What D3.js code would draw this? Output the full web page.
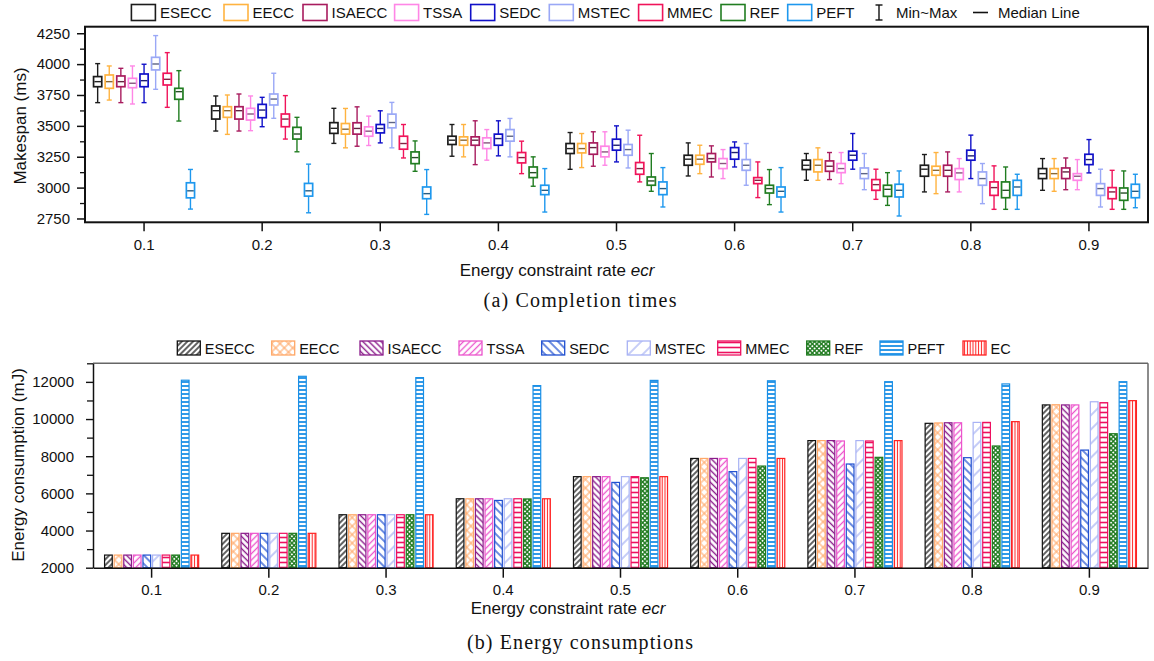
<!DOCTYPE html>
<html><head><meta charset="utf-8">
<script src="https://cdn.jsdelivr.net/npm/d3@7"></script>
<style>body{margin:0;background:#fff;} svg{display:block;font-family:"Liberation Sans",Arial,sans-serif;}</style>
</head><body><svg id="c" width="1154" height="661"></svg>
<script>
// ---------- DATA ----------
const categories = ["0.1","0.2","0.3","0.4","0.5","0.6","0.7","0.8","0.9"];
const seriesNames = ["ESECC","EECC","ISAECC","TSSA","SEDC","MSTEC","MMEC","REF","PEFT"];
const energySeriesNames = ["ESECC","EECC","ISAECC","TSSA","SEDC","MSTEC","MMEC","REF","PEFT","EC"];

// Makespan box stats per ecr: [min, q1, median, q3, max]
const ESECC_box = [[3688,3817,3858,3899,4004],[3458,3555,3623,3661,3742],[3358,3439,3480,3526,3642],[3254,3349,3384,3416,3511],[3148,3276,3316,3357,3446],[3094,3181,3230,3262,3362],[3059,3146,3181,3222,3276],[2965,3092,3149,3181,3268],[2978,3073,3113,3154,3235]];
const EECC_box = [[3709,3804,3858,3912,3985],[3431,3569,3623,3655,3750],[3322,3433,3473,3519,3641],[3249,3343,3384,3411,3511],[3162,3281,3316,3357,3438],[3113,3189,3230,3262,3343],[3059,3127,3181,3227,3322],[2951,3100,3140,3173,3284],[2970,3073,3113,3154,3235]];
const ISAECC_box = [[3688,3817,3858,3904,3966],[3458,3555,3623,3655,3758],[3335,3433,3479,3525,3654],[3186,3343,3384,3411,3541],[3173,3270,3324,3362,3452],[3086,3208,3235,3276,3338],[3065,3132,3173,3216,3284],[2965,3092,3140,3181,3289],[2983,3073,3127,3159,3240]];
const TSSA_box = [[3677,3809,3845,3885,3985],[3461,3547,3596,3642,3742],[3341,3416,3457,3492,3579],[3222,3316,3362,3403,3470],[3181,3249,3289,3335,3452],[3073,3154,3195,3235,3308],[3032,3121,3154,3195,3284],[2965,3065,3119,3154,3235],[2983,3059,3092,3113,3227]];
const SEDC_box = [[3688,3817,3866,3920,3999],[3493,3566,3628,3674,3731],[3362,3443,3479,3511,3622],[3257,3343,3397,3433,3541],[3208,3303,3343,3392,3500],[3167,3230,3284,3324,3370],[3149,3222,3262,3295,3438],[3073,3222,3257,3303,3425],[3119,3186,3227,3270,3389]];
const MSTEC_box = [[3796,3953,4001,4055,4231],[3561,3669,3717,3758,3926],[3322,3484,3527,3595,3690],[3249,3376,3416,3470,3560],[3159,3262,3308,3349,3465],[3019,3140,3181,3227,3357],[2983,3073,3113,3159,3276],[2870,3019,3073,3127,3195],[2843,2937,2992,3032,3149]];
const MMEC_box = [[3650,3831,3877,3926,4093],[3393,3493,3555,3596,3745],[3240,3311,3357,3416,3511],[3113,3200,3243,3284,3376],[3046,3108,3154,3203,3424],[2919,3032,3059,3081,3208],[2905,2978,3024,3065,3149],[2824,2937,3000,3046,3176],[2824,2910,2965,3000,3140]];
const REF_box = [[3539,3715,3777,3804,3947],[3290,3393,3434,3488,3569],[3132,3194,3243,3289,3378],[3011,3081,3121,3167,3249],[2970,3019,3054,3086,3276],[2862,2956,2992,3019,3146],[2856,2929,2986,3019,3121],[2824,2918,2978,3046,3167],[2824,2897,2956,2997,3135]];
const PEFT_box = [[2826,2917,2974,3039,3147],[2796,2931,2974,3034,3190],[2783,2910,2951,3005,3146],[2802,2943,2978,3019,3154],[2843,2943,2992,3046,3162],[2802,2924,2970,3005,3162],[2770,2924,2978,3027,3135],[2824,2937,3005,3059,3108],[2837,2918,2970,3027,3108]];

// Energy consumption (mJ) per ecr
const ESECC_energy = [2680,3850,4850,5710,6900,7880,8840,9770,10760];
const EECC_energy  = [2680,3850,4850,5710,6900,7880,8840,9790,10770];
const ISAECC_energy= [2680,3850,4850,5710,6900,7880,8840,9800,10760];
const TSSA_energy  = [2680,3850,4850,5710,6900,7880,8820,9800,10760];
const SEDC_energy  = [2680,3850,4850,5620,6590,7170,7580,7920,8330];
const MSTEC_energy = [2680,3850,4850,5710,6900,7880,8840,9820,10930];
const MMEC_energy  = [2680,3850,4850,5710,6900,7880,8820,9820,10880];
const REF_energy   = [2680,3850,4850,5700,6840,7470,7940,8550,9210];
const PEFT_energy  = [12090,12300,12230,11800,12080,12060,12010,11890,12010];
const EC_energy    = [2680,3850,4850,5710,6900,7880,8840,9860,10990];

const makespanTicks = [2750,3000,3250,3500,3750,4000,4250];
const makespanMinorTicks = [2875,3125,3375,3625,3875,4125];
const energyTicks = [2000,4000,6000,8000,10000,12000];
const energyMinorTicks = [3000,5000,7000,9000,11000,13000];

// ---------- STYLE / LAYOUT ----------
const boxData = {ESECC:ESECC_box,EECC:EECC_box,ISAECC:ISAECC_box,TSSA:TSSA_box,SEDC:SEDC_box,MSTEC:MSTEC_box,MMEC:MMEC_box,REF:REF_box,PEFT:PEFT_box};
const energyData = {ESECC:ESECC_energy,EECC:EECC_energy,ISAECC:ISAECC_energy,TSSA:TSSA_energy,SEDC:SEDC_energy,MSTEC:MSTEC_energy,MMEC:MMEC_energy,REF:REF_energy,PEFT:PEFT_energy,EC:EC_energy};
const boxColor = {ESECC:"#1c1c1c",EECC:"#ffb340",ISAECC:"#a81c5e",TSSA:"#ff86e6",SEDC:"#1010c8",MSTEC:"#9aa8f6",MMEC:"#f0145a",REF:"#217d21",PEFT:"#1e98ee"};
const patSpec = {
  ESECC:{t:"/",c:"#111111",s:4,w:1.3},
  EECC:{t:"x",c:"#ffa868",s:6,w:1.1},
  ISAECC:{t:"\\",c:"#8b1c8b",s:4.3,w:1.4},
  TSSA:{t:"/",c:"#ec55cc",s:4.5,w:1.3},
  SEDC:{t:"\\",c:"#1f4fd0",s:6,w:1.3},
  MSTEC:{t:"/",c:"#a8b2f4",s:10,w:1.3},
  MMEC:{t:"-",c:"#ee1060",s:5,w:1.6},
  REF:{t:"x",c:"#1e7a1e",s:3.2,w:1.4},
  PEFT:{t:"-",c:"#1a8fe6",s:4,w:1.8},
  EC:{t:"|",c:"#ff2222",s:2.8,w:1.0}
};
const topLegendX = {ESECC:131.4,EECC:224,ISAECC:303,TSSA:394.6,SEDC:470.7,MSTEC:549.3,MMEC:638.6,REF:721,PEFT:787.7};
const botLegendX = {ESECC:177.3,EECC:271.7,ISAECC:360,TSSA:459,SEDC:541.7,MSTEC:627.3,MMEC:717.7,REF:806.7,PEFT:880,EC:963};
const fmt = d3.format("d");

const svg = d3.select("#c");
const defs = svg.append("defs");

energySeriesNames.forEach(n=>{
  const p = patSpec[n];
  let rot = 0;
  if (p.t==="/") rot = 45; else if (p.t==="\\") rot = -45; else if (p.t==="-") rot = 90; else if (p.t==="x") rot = 45;
  const pat = defs.append("pattern").attr("id","pat-"+n).attr("patternUnits","userSpaceOnUse")
    .attr("width",p.s).attr("height",p.s).attr("patternTransform",`rotate(${rot})`);
  pat.append("rect").attr("width",p.s).attr("height",p.s).attr("fill","#fff");
  pat.append("line").attr("x1",p.s/2).attr("x2",p.s/2).attr("y1",0).attr("y2",p.s)
    .attr("stroke",p.c).attr("stroke-width",p.w);
  if (p.t==="x") pat.append("line").attr("y1",p.s/2).attr("y2",p.s/2).attr("x1",0).attr("x2",p.s)
    .attr("stroke",p.c).attr("stroke-width",p.w);
});

// ================= TOP CHART =================
const T = {l:85, r:1148, t:26.7, b:222.3};
const xTop = d3.scaleBand().domain(categories).range([T.l,T.r]);
const yTop = d3.scaleLinear().domain([2719,4303]).range([T.b,T.t]);
const inTop = d3.scaleBand().domain(seriesNames).range([-52.2,52.2]);
const boxW = 8.2, capW = 5;

const gBoxes = svg.append("g");
seriesNames.forEach(n=>{
  const col = boxColor[n];
  const med = d3.interpolateRgb(col,"#2a2a2a")(0.55);
  const g = gBoxes.append("g");
  boxData[n].forEach((d,i)=>{
    const cx = xTop(categories[i]) + xTop.bandwidth()/2 + inTop(n) + inTop.bandwidth()/2;
    const [mn,q1,md,q3,mx] = d;
    g.append("line").attr("x1",cx).attr("x2",cx).attr("y1",yTop(mx)).attr("y2",yTop(q3)).attr("stroke",col).attr("stroke-width",1.4);
    g.append("line").attr("x1",cx).attr("x2",cx).attr("y1",yTop(q1)).attr("y2",yTop(mn)).attr("stroke",col).attr("stroke-width",1.4);
    g.append("line").attr("x1",cx-capW/2).attr("x2",cx+capW/2).attr("y1",yTop(mx)).attr("y2",yTop(mx)).attr("stroke",col).attr("stroke-width",1.4);
    g.append("line").attr("x1",cx-capW/2).attr("x2",cx+capW/2).attr("y1",yTop(mn)).attr("y2",yTop(mn)).attr("stroke",col).attr("stroke-width",1.4);
    g.append("rect").attr("x",cx-boxW/2).attr("y",yTop(q3)).attr("width",boxW).attr("height",yTop(q1)-yTop(q3))
      .attr("fill","#fff").attr("stroke",col).attr("stroke-width",1.7);
    g.append("line").attr("x1",cx-boxW/2+0.8).attr("x2",cx+boxW/2-0.8).attr("y1",yTop(md)).attr("y2",yTop(md)).attr("stroke",med).attr("stroke-width",1.4);
  });
});

svg.append("rect").attr("x",T.l).attr("y",T.t).attr("width",T.r-T.l).attr("height",T.b-T.t)
  .attr("fill","none").attr("stroke","#111").attr("stroke-width",2);

const yAxT = svg.append("g").attr("transform",`translate(${T.l},0)`)
  .call(d3.axisLeft(yTop).tickValues(makespanTicks).tickFormat(fmt).tickSize(8).tickPadding(7));
yAxT.select(".domain").remove();
yAxT.selectAll("text").attr("font-size",15).attr("fill","#111").attr("font-family","Liberation Sans, Arial, sans-serif");
yAxT.selectAll("line").attr("stroke","#111").attr("stroke-width",1.5);
const yAxTm = svg.append("g").attr("transform",`translate(${T.l},0)`)
  .call(d3.axisLeft(yTop).tickValues(makespanMinorTicks).tickSize(5).tickFormat(""));
yAxTm.select(".domain").remove();
yAxTm.selectAll("line").attr("stroke","#111").attr("stroke-width",1.3);

const xAxT = svg.append("g").attr("transform",`translate(0,${T.b})`)
  .call(d3.axisBottom(xTop).tickSize(9).tickPadding(8.5));
xAxT.select(".domain").remove();
xAxT.selectAll("text").attr("font-size",15).attr("fill","#111").attr("font-family","Liberation Sans, Arial, sans-serif");
xAxT.selectAll("line").attr("stroke","#111").attr("stroke-width",1.5);

svg.append("text").attr("transform","translate(20,126) rotate(-90)").attr("text-anchor","middle")
  .attr("dominant-baseline","central").attr("font-size",17).attr("fill","#111").text("Makespan (ms)");
const tt1 = svg.append("text").attr("x",557).attr("y",270).attr("text-anchor","middle")
  .attr("dominant-baseline","central").attr("font-size",17).attr("fill","#111");
tt1.append("tspan").text("Energy constraint rate ");
tt1.append("tspan").attr("font-style","italic").text("ecr");
svg.append("text").attr("x",580).attr("y",300).attr("text-anchor","middle").attr("dominant-baseline","central")
  .attr("font-family","Liberation Serif, 'DejaVu Serif', serif").attr("font-size",20).attr("fill","#111")
  .attr("textLength",193).attr("lengthAdjust","spacing").text("(a) Completion times");

seriesNames.forEach(n=>{
  const x = topLegendX[n];
  svg.append("rect").attr("x",x).attr("y",4.5).attr("width",24).attr("height",16)
    .attr("fill","#fff").attr("stroke",boxColor[n]).attr("stroke-width",1.6);
  svg.append("text").attr("x",x+28.5).attr("y",12.8).attr("dominant-baseline","central")
    .attr("font-size",15).attr("fill","#111").text(n);
});
svg.append("line").attr("x1",879).attr("x2",879).attr("y1",5).attr("y2",20).attr("stroke","#111").attr("stroke-width",1.4);
svg.append("line").attr("x1",875.5).attr("x2",882.5).attr("y1",5).attr("y2",5).attr("stroke","#111").attr("stroke-width",1.4);
svg.append("line").attr("x1",875.5).attr("x2",882.5).attr("y1",20).attr("y2",20).attr("stroke","#111").attr("stroke-width",1.4);
svg.append("text").attr("x",896).attr("y",12.8).attr("dominant-baseline","central").attr("font-size",15).attr("fill","#111").text("Min~Max");
svg.append("line").attr("x1",973).attr("x2",988).attr("y1",12.5).attr("y2",12.5).attr("stroke","#111").attr("stroke-width",1.6);
svg.append("text").attr("x",998).attr("y",12.8).attr("dominant-baseline","central").attr("font-size",15).attr("fill","#111").text("Median Line");

// ================= BOTTOM CHART =================
const B = {l:93, r:1148, t:363.3, b:567.7};
const xBot = d3.scaleBand().domain(categories).range([B.l,B.r]);
const yBot = d3.scaleLinear().domain([2000,13000]).range([B.b,B.t]);
const inBot = d3.scaleBand().domain(energySeriesNames).range([-48,48]).paddingInner(0.2).paddingOuter(0.1);

energySeriesNames.forEach(n=>{
  const p = patSpec[n];
  svg.append("g").selectAll("rect").data(energyData[n]).join("rect")
    .attr("x",(d,i)=>xBot(categories[i]) + xBot.bandwidth()/2 + inBot(n))
    .attr("y",d=>yBot(d)).attr("width",inBot.bandwidth()).attr("height",d=>yBot(2000)-yBot(d))
    .attr("fill",`url(#pat-${n})`).attr("stroke",p.c).attr("stroke-width",1.2);
});

svg.append("line").attr("x1",B.l).attr("x2",B.r).attr("y1",B.t).attr("y2",B.t).attr("stroke","#666").attr("stroke-width",1.5);
svg.append("line").attr("x1",B.r).attr("x2",B.r).attr("y1",B.t).attr("y2",B.b).attr("stroke","#666").attr("stroke-width",1.5);

const yAxB = svg.append("g").attr("transform",`translate(${B.l},0)`)
  .call(d3.axisLeft(yBot).tickValues(energyTicks).tickFormat(fmt).tickSize(7).tickPadding(12).tickSizeOuter(0));
yAxB.select(".domain").attr("stroke","#111").attr("stroke-width",1.5);
yAxB.selectAll("text").attr("font-size",15).attr("fill","#111").attr("font-family","Liberation Sans, Arial, sans-serif");
yAxB.selectAll("line").attr("stroke","#111").attr("stroke-width",1.4);
const yAxBm = svg.append("g").attr("transform",`translate(${B.l},0)`)
  .call(d3.axisLeft(yBot).tickValues(energyMinorTicks).tickSize(6).tickFormat(""));
yAxBm.select(".domain").remove();
yAxBm.selectAll("line").attr("stroke","#111").attr("stroke-width",1.3);

const xAxB = svg.append("g").attr("transform",`translate(0,${B.b})`)
  .call(d3.axisBottom(xBot).tickSize(10).tickPadding(7).tickSizeOuter(0));
xAxB.select(".domain").attr("stroke","#111").attr("stroke-width",1.5);
xAxB.selectAll("text").attr("font-size",15).attr("fill","#111").attr("font-family","Liberation Sans, Arial, sans-serif");
xAxB.selectAll("line").attr("stroke","#111").attr("stroke-width",1.5);

svg.append("text").attr("transform","translate(18,465) rotate(-90)").attr("text-anchor","middle")
  .attr("dominant-baseline","central").attr("font-size",17).attr("fill","#111").text("Energy consumption (mJ)");
const tt2 = svg.append("text").attr("x",568).attr("y",608).attr("text-anchor","middle")
  .attr("dominant-baseline","central").attr("font-size",17).attr("fill","#111");
tt2.append("tspan").text("Energy constraint rate ");
tt2.append("tspan").attr("font-style","italic").text("ecr");
svg.append("text").attr("x",580).attr("y",641.7).attr("text-anchor","middle").attr("dominant-baseline","central")
  .attr("font-family","Liberation Serif, 'DejaVu Serif', serif").attr("font-size",20).attr("fill","#111")
  .attr("textLength",226).attr("lengthAdjust","spacing").text("(b) Energy consumptions");

energySeriesNames.forEach(n=>{
  const x = botLegendX[n], p = patSpec[n];
  svg.append("rect").attr("x",x).attr("y",341).attr("width",23).attr("height",14)
    .attr("fill",`url(#pat-${n})`).attr("stroke",p.c).attr("stroke-width",1.3);
  svg.append("text").attr("x",x+27.5).attr("y",348.5).attr("dominant-baseline","central")
    .attr("font-size",14.5).attr("fill","#111").text(n);
});
</script></body></html>
